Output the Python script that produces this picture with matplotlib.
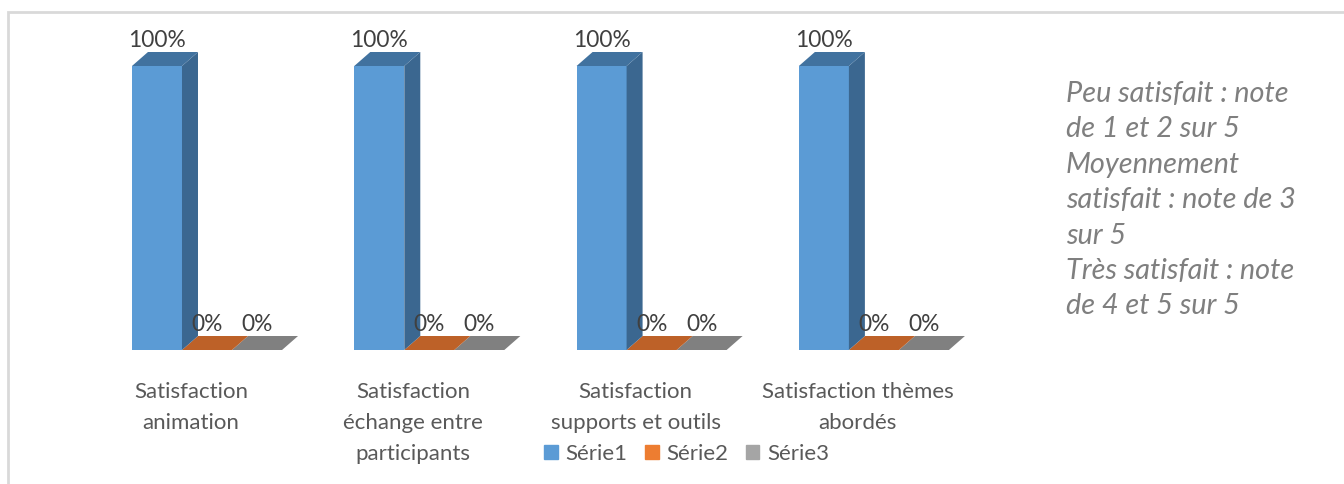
import matplotlib.pyplot as plt
from matplotlib.patches import Patch, Rectangle

categories = ["Satisfaction\nanimation", "Satisfaction\néchange entre\nparticipants",
              "Satisfaction\nsupports et outils", "Satisfaction thèmes\nabordés"]
series_names = ["Série1", "Série2", "Série3"]
serie1 = [1.0, 1.0, 1.0, 1.0]
serie2 = [0.0, 0.0, 0.0, 0.0]
serie3 = [0.0, 0.0, 0.0, 0.0]
note_text = ("Peu satisfait : note\nde 1 et 2 sur 5\nMoyennement\n"
             "satisfait : note de 3\nsur 5\nTrès satisfait : note\nde 4 et 5 sur 5")

front = ["#5b9bd5", "#ed7d31", "#a5a5a5"]
side = ["#3b6790", "#a9561f", "#727272"]
top = ["#41729f", "#bd6128", "#808080"]

plt.rcParams['font.family'] = ['Lato', 'DejaVu Sans']

fig = plt.figure(figsize=(13.44, 4.84), dpi=100)
ax = fig.add_axes([0, 0, 1, 1])
ax.set_xlim(-207 / 222.3, (1344 - 207) / 222.3)
ax.set_ylim(-134 / 284, 350 / 284)
ax.axis('off')

# outer border of the chart area
fig.patches.append(Rectangle((8 / 1344, -0.1), 1.2, 1 - 12 / 484 + 0.1, transform=fig.transFigure,
                             fill=False, edgecolor="#d9d9d9", linewidth=2))

w = 0.225
dx = 16 / 222.3
dy = 14 / 284
all_series = [serie1, serie2, serie3]

for k in [2, 1, 0]:
    vals = all_series[k]
    for i, v in enumerate(vals):
        x0 = i - 1.5 * w + k * w
        ax.bar(x0, v, width=w, align='edge', color=front[k], zorder=3 - k)
        # side face
        ax.fill([x0 + w, x0 + w + dx, x0 + w + dx, x0 + w],
                [0, dy, v + dy, v], color=side[k], lw=0, zorder=3 - k)
        # top face
        ax.fill([x0, x0 + w, x0 + w + dx, x0 + dx],
                [v, v, v + dy, v + dy], color=top[k], lw=0, zorder=3 - k)
        ax.text(x0 + w / 2, v + dy + 0.003, f"{v:.0%}", ha='center', va='bottom',
                fontsize=16.4, color="#404040", zorder=5)

for i, c in enumerate(categories):
    ax.text(i - dx, -0.114, c, ha='center', va='top', fontsize=16,
            color="#595959", linespacing=1.67)

ax.text(3.864, 0.948, note_text, ha='left', va='top', fontsize=20.8, style='italic',
        color="#7f7f7f", linespacing=1.45)

handles = [Patch(color=front[k], label=series_names[k]) for k in range(3)]
fig.legend(handles=handles, loc='center', bbox_to_anchor=(0.511, 0.062), ncol=3,
           frameon=False, fontsize=16, handlelength=0.6, handleheight=0.6,
           handletextpad=0.35, columnspacing=0.8, labelcolor="#595959")

fig.savefig("out.png", dpi=100)
